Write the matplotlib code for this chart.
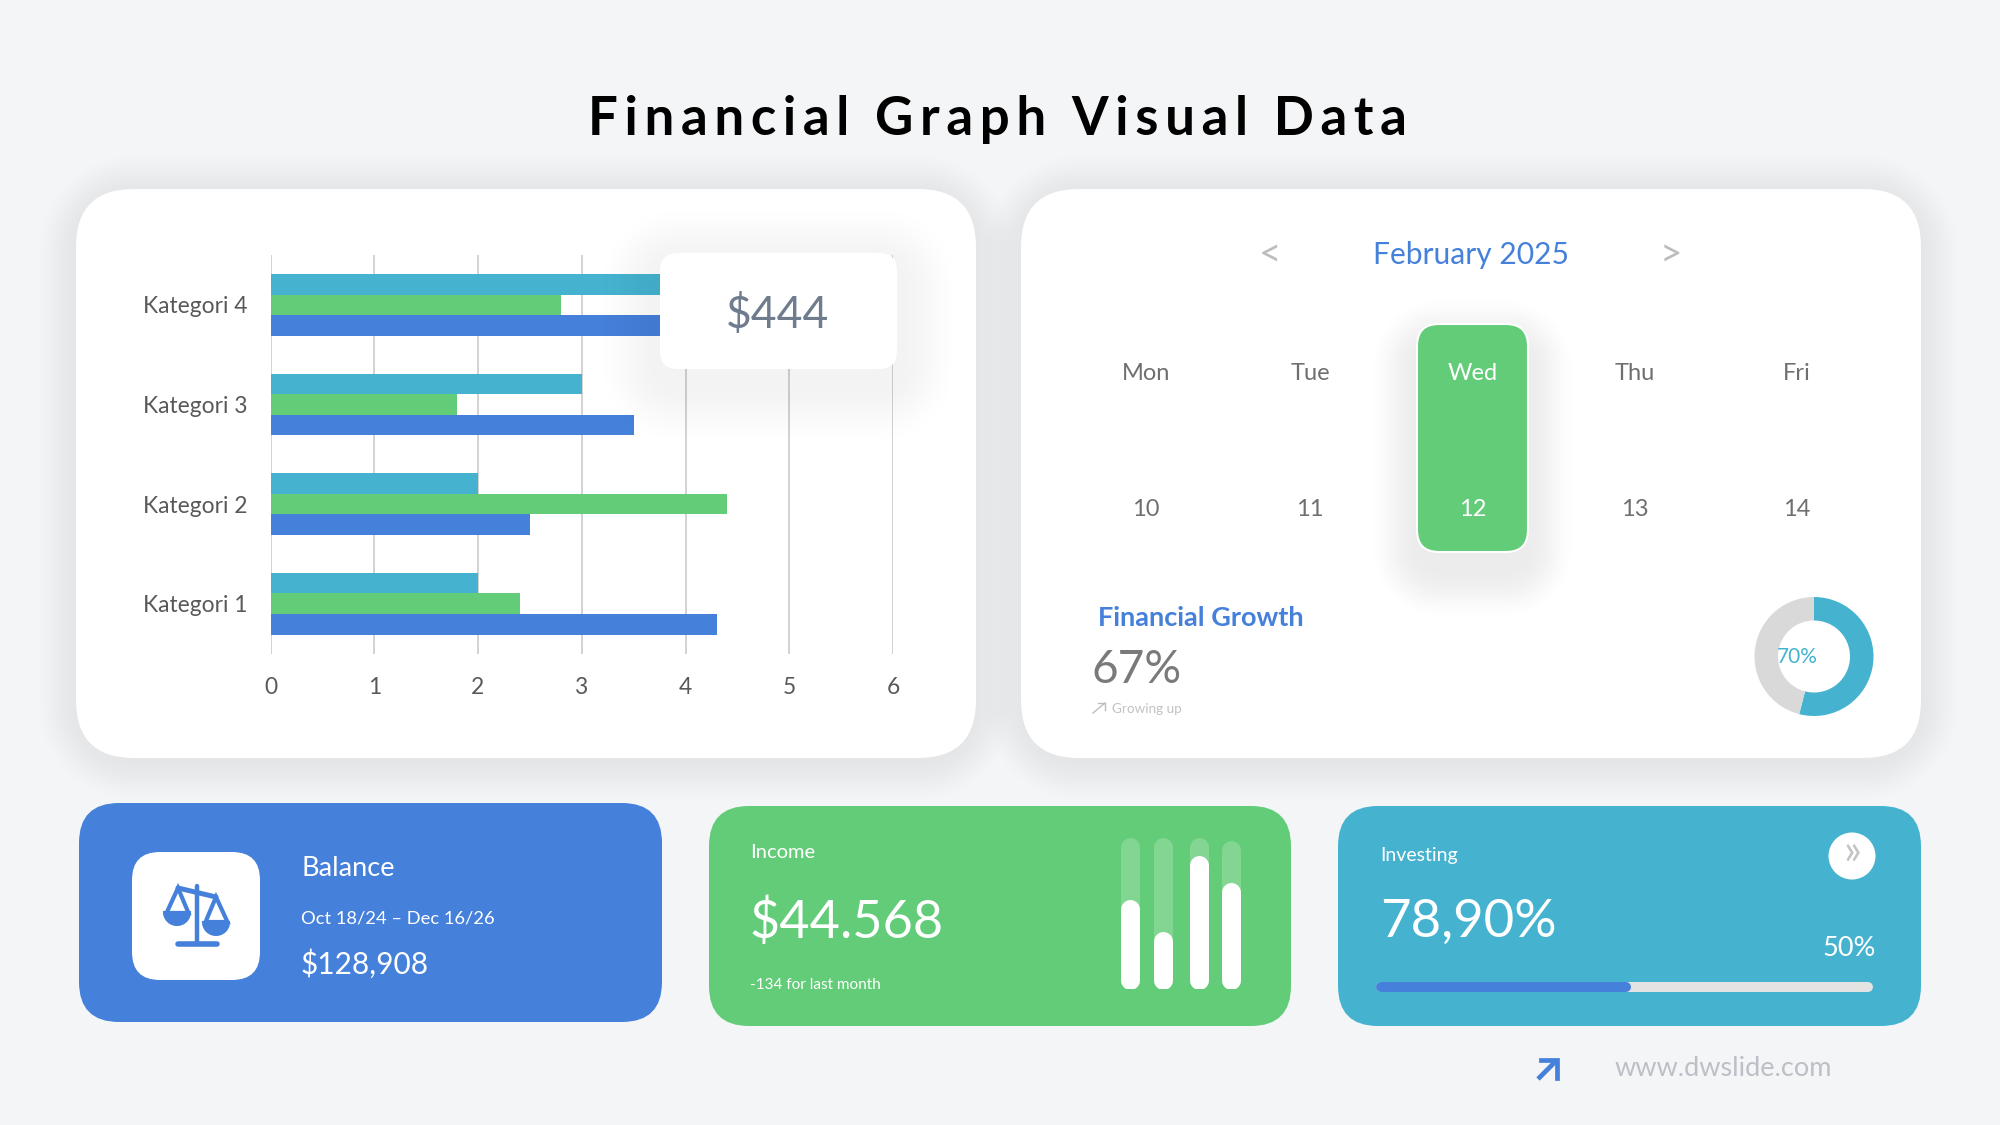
import numpy as np
import matplotlib
matplotlib.use("Agg")
import matplotlib.pyplot as plt
from matplotlib.patches import FancyBboxPatch, Polygon, Circle, Wedge

plt.rcParams['font.family'] = ['Lato', 'DejaVu Sans']

# ---------- data ----------
categories = ["Kategori 1", "Kategori 2", "Kategori 3", "Kategori 4"]
series_blue = [4.3, 2.5, 3.5, 4.5]
series_green = [2.4, 4.4, 1.8, 2.8]
series_teal = [2, 2, 3, 5]
x_ticks = [0, 1, 2, 3, 4, 5, 6]
donut_values = [54, 46]
income_fill = [59, 38, 88, 70]
income_track = [100, 100, 100, 98]
progress_value = 51.3
days = ["Mon", "Tue", "Wed", "Thu", "Fri"]
dates = ["10", "11", "12", "13", "14"]

# ---------- colours ----------
BG = "#f4f5f7"
BLUE = "#4580db"
GREEN = "#63cc78"
TEAL = "#45b3d0"
GRID = "#d2d2d2"
TXT = "#595959"
W, H = 2000, 1125

fig = plt.figure(figsize=(20, 11.25), dpi=100, facecolor=BG)


def px_axes(x0, y0, x1, y1, z):
    return fig.add_axes([x0 / W, 1 - y1 / H, (x1 - x0) / W, (y1 - y0) / H], zorder=z)


def layer(z):
    a = fig.add_axes([0, 0, 1, 1], zorder=z)
    a.set_xlim(0, W)
    a.set_ylim(H, 0)
    a.axis("off")
    a.patch.set_alpha(0)
    return a


def rrect(a, x0, y0, x1, y1, r, fc, ec="none", lw=0, z=2):
    p = FancyBboxPatch((x0 + r, y0 + r), x1 - x0 - 2 * r, y1 - y0 - 2 * r,
                       boxstyle=f"round,pad={r},rounding_size={r}",
                       fc=fc, ec=ec, lw=lw, zorder=z, mutation_aspect=1)
    a.add_patch(p)
    return p


def shadow(a, x0, y0, x1, y1, r, blur, alpha, dy=0, z=1):
    xs = np.arange(x0 - blur - 2, x1 + blur + 3, 2.0)
    ys = np.arange(y0 + dy - blur - 2, y1 + dy + blur + 3, 2.0)
    X, Y = np.meshgrid(xs, ys)
    cx, cy = (x0 + x1) / 2, (y0 + y1) / 2 + dy
    hx, hy = (x1 - x0) / 2 - r, (y1 - y0) / 2 - r
    qx, qy = np.abs(X - cx) - hx, np.abs(Y - cy) - hy
    d = np.hypot(np.maximum(qx, 0), np.maximum(qy, 0)) + np.minimum(np.maximum(qx, qy), 0) - r
    t = np.clip(1 - d / blur, 0, 1)
    img = np.zeros(X.shape + (4,))
    img[..., 3] = alpha * t ** 2 * (3 - 2 * t)
    a.imshow(img, extent=(xs[0], xs[-1], ys[-1], ys[0]), origin="upper", aspect="auto",
             interpolation="bilinear", zorder=z)
    a.set_xlim(0, W)
    a.set_ylim(H, 0)


back = layer(0)
top = layer(5)


def text(x, y, s, size, color, ha="left", weight="normal", a=top, **kw):
    return a.text(x, y + 7, s, fontsize=size, color=color, ha=ha, va="center", fontweight=weight, **kw)


# ---------- title ----------
title_words = "Financial Graph Visual Data".split(" ")
text(997, 113, "  ".join("\u2009".join(w) for w in title_words),
     38, "black", ha="center", weight="bold")

# ---------- main cards ----------
for x0, x1 in [(76, 976), (1021, 1921)]:
    shadow(back, x0, 189, x1, 758, 58, 46, 0.06, dy=4)
    rrect(back, x0, 189, x1, 758, 58, "white")

# ---------- bar chart ----------
ax = px_axes(270.5, 255, 893, 653.5, 1)
ax.patch.set_alpha(0)
pos = np.arange(len(categories))
bh = 0.207
ax.barh(pos - bh, series_blue, bh, color=BLUE, zorder=3)
ax.barh(pos, series_green, bh, color=GREEN, zorder=3)
ax.barh(pos + bh, series_teal, bh, color=TEAL, zorder=3)
ax.set_xlim(0, 6)
ax.set_ylim(-0.5, 3.5)
ax.set_xticks(x_ticks)
ax.set_yticks(pos, categories)
ax.grid(axis="x", color=GRID, lw=1.4, zorder=1)
ax.set_axisbelow(True)
for s in ax.spines.values():
    s.set_visible(False)
ax.tick_params(length=0, labelsize=16.4, labelcolor=TXT)
ax.tick_params(axis="x", pad=17)
ax.tick_params(axis="y", pad=16.5)

# popup over the chart
shadow(top, 660, 253, 897, 369, 18, 70, 0.05, dy=14)
rrect(top, 660, 253, 897, 369, 18, "white")
text(778, 308, "$444", 32, "#6f7c8e", ha="center")

# ---------- calendar ----------
text(1270, 249, "<", 28, "#bdbdbd", ha="center")
text(1471, 248, "February 2025", 21.6, BLUE, ha="center")
text(1671, 249, ">", 28, "#bdbdbd", ha="center")
shadow(back, 1417, 324, 1528, 552, 22, 52, 0.075, dy=20, z=3)
rrect(back, 1417, 324, 1528, 552, 22, GREEN, ec="white", lw=1.5, z=4)
for d, n, x in zip(days, dates, [1146, 1310, 1473, 1635, 1797]):
    c = "white" if d == "Wed" else "#6f6f6f"
    text(x, 366, d, 17, c, ha="center")
    text(x, 502, n, 17, c, ha="center")

# ---------- growth ----------
text(1098, 611, "Financial Growth", 19.5, BLUE, weight="bold")
text(1091, 663, "67%", 33, "#7a7a7a")
text(1112, 702, "Growing up", 9.7, "#c2c2c2")
back.plot([1093, 1105], [713, 703], color="#bdbdbd", lw=1, zorder=3)
back.plot([1098, 1105, 1105], [703, 703, 710], color="#bdbdbd", lw=1, zorder=3)

# ---------- donut ----------
dax = px_axes(1754.5, 597, 1873.5, 716, 1)
dax.pie(donut_values, colors=[TEAL, "#d9d9d9"], startangle=90, counterclock=False, radius=1,
        wedgeprops=dict(width=0.395, linewidth=0))
dax.set_xlim(-1, 1)
dax.set_ylim(-1, 1)
text(1797, 650, "70%", 15, TEAL, ha="center")

# ---------- bottom cards ----------
rrect(back, 79, 803, 662, 1022, 40, BLUE)
rrect(back, 709, 806, 1291, 1026, 40, GREEN)
rrect(back, 1338, 806, 1921, 1026, 40, TEAL)

# balance card
rrect(back, 132, 852, 260, 980, 28, "white")
text(301, 862, "Balance", 19.5, "white")
text(301, 911, "Oct 18/24 \u2013 Dec 16/26", 13.2, "white")
text(301, 957, "$128,908", 21.5, "white")
# scales icon
ic = dict(color=BLUE, solid_capstyle="round", zorder=4)
back.plot([196.5, 196.5], [886, 944], lw=3.2, **ic)
back.plot([178, 217], [944, 944], lw=4, **ic)
back.plot([178, 216], [888, 897], lw=3.6, **ic)
back.add_patch(Polygon([(178, 888), (166.5, 913), (188.5, 913)], closed=True, fc="none", ec=BLUE, lw=3, zorder=4))
back.add_patch(Polygon([(216, 897), (205.5, 922), (227.5, 922)], closed=True, fc="none", ec=BLUE, lw=3, zorder=4))
back.add_patch(Wedge((177, 912), 13, 0, 180, fc=BLUE, ec=BLUE, lw=1.5, zorder=4))
back.add_patch(Wedge((216, 922), 13, 0, 180, fc=BLUE, ec=BLUE, lw=1.5, zorder=4))

# income card
text(750, 846, "Income", 14.5, "white")
text(750, 915, "$44.568", 37.6, "white")
text(750, 978, "-134 for last month", 11, "white")
bar_px = 19
income_px = [1130, 1163, 1199, 1231]
iax = px_axes(1110, 837, 1250, 989, 1)
iax.axis("off")
iax.set_xlim(1110, 1250)
iax.set_ylim(0, 100)
r = (bar_px / 2) / 1.52
iax.vlines(income_px, r, np.array(income_track) - r, color="white", alpha=0.2, lw=bar_px * 0.72, capstyle="round")
iax.vlines(income_px, r, np.array(income_fill) - r, color="white", lw=bar_px * 0.72, capstyle="round")

# investing card
text(1380, 848, "Investing", 14, "white")
text(1380, 915, "78,90%", 38, "white")
text(1876, 942, "50%", 19.5, "white", ha="right")
back.add_patch(Circle((1852, 856), 23.5, fc="white", ec="none", zorder=4))
text(1852, 846, "\u00bb", 30, "#c4c4c4", ha="center")
pax = px_axes(1376, 977, 1873, 997, 1)
pax.axis("off")
pax.set_xlim(0, 100)
pax.set_ylim(-1, 1)
pax.hlines(0, 1, 99, color="#e3e3e3", lw=7.2, capstyle="round")
pax.hlines(0, 1, progress_value - 1, color=BLUE, lw=7.2, capstyle="round")

# ---------- footer ----------
back.plot([1538, 1557], [1079, 1060], color=BLUE, lw=3.4, zorder=3, solid_capstyle="butt")
back.plot([1541, 1557, 1557], [1060, 1060, 1078], color=BLUE, lw=3.4, zorder=3, solid_joinstyle="miter")
text(1615, 1062, "www.dwslide.com", 19.5, "#bcc0c6")

fig.savefig("out.png", dpi=100, facecolor=BG)
